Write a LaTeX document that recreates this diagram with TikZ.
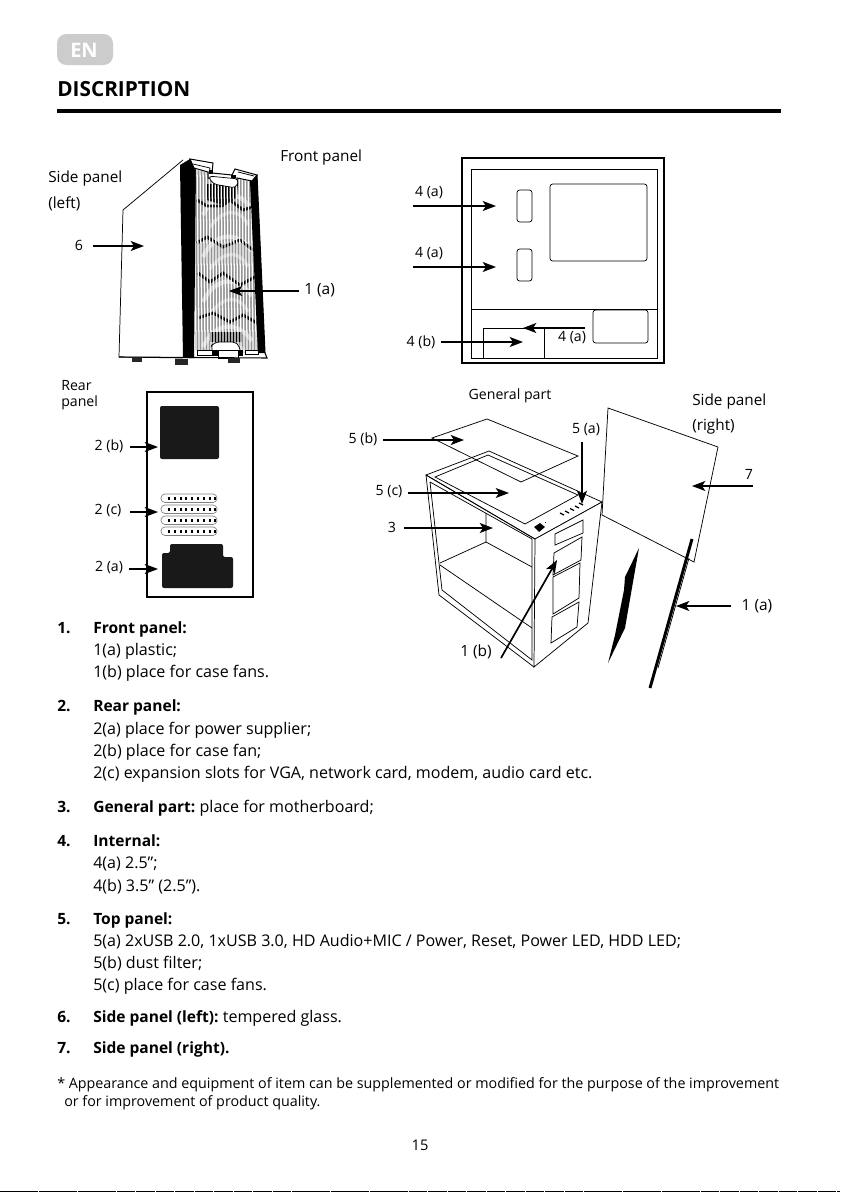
\documentclass[tikz,border=0pt]{standalone}
\usepackage{fontspec}
\setmainfont{Open Sans}
\usetikzlibrary{arrows.meta}
\newcommand{\bfx}[1]{{\fontsize{11.65}{14}\bfseries\selectfont #1}}
\tikzset{
 thinl/.style={draw=black,line width=0.55pt,line join=miter},
 arr/.style={-{Stealth[length=10pt,width=7.5pt,inset=2.5pt]},line width=1.25pt,black,shorten <=0pt},
 lab/.style={font=\fontsize{11.5}{13}\selectfont,inner sep=0pt,text=black},
 labs/.style={font=\fontsize{10.6}{12}\selectfont,inner sep=0pt,text=black},
 labb/.style={font=\fontsize{11.6}{13}\selectfont,inner sep=0pt,text=black},
 body/.style={font=\fontsize{12.05}{14}\selectfont,anchor=base west,inner sep=0pt,text=black},
 note/.style={font=\fontsize{10.72}{12}\selectfont,anchor=base west,inner sep=0pt,text=black},
}
\begin{document}
\begin{tikzpicture}[x=0.75pt,y=-0.75pt]
\useasboundingbox (0,0) rectangle (840,1192);
\fill[white] (0,0) rectangle (840,1192);
% header
\fill[black!20,rounded corners=7pt] (57,34) rectangle (113,65);
\node[font=\fontsize{15}{17}\bfseries\selectfont,text=white,inner sep=0pt] (en) at (84,50) {EN};
\node[font=\fontsize{15.6}{17}\bfseries\selectfont,anchor=base west,inner sep=0pt] (title) at (57,96) {DISCRIPTION};
\fill (57,109) rectangle (781,113);
\draw[line width=1.2pt,dash pattern=on 14pt off 0.6pt] (0,1191.4) -- (840,1191.4);
% ===== tower =====
\draw[thinl,fill=white] (183,160)--(123,210)--(119,357)--(183,358);
\fill (180,165)--(190,159)--(196,170)--(194,358)--(183,358)--cycle;
\begin{scope}
\clip (196,170)--(253,182)--(259,353)--(195,350)--cycle;
\fill[black!42] (190,165) rectangle (270,360);
\foreach \c in {203,245,290,335}{
 \draw[black!22,line width=3.2pt] (203,\c+12) .. controls (215,\c-14) and (238,\c-14) .. (252,\c+6);
 \draw[black!26,line width=2.6pt] (210,\c+24) .. controls (225,\c+4) and (240,\c+6) .. (248,\c+22);
}
\fill (207,184)--(238,184)--(236,198)--(222,205)--(207,200)--cycle;
\fill (210,332) rectangle (242,342);
\draw[line width=2.2pt] (197,200)--(207,206)--(222,206)--(230,200)--(243,210)--(253,207);
\draw[line width=2.2pt] (197,243)--(207,237)--(223,247)--(240,240)--(253,250);
\draw[line width=2.2pt] (198,273)--(210,282)--(223,273)--(240,285)--(255,277);
\draw[line width=2.2pt] (198,318)--(213,313)--(230,322)--(243,315)--(257,323);
\foreach \x in {194,197,...,264}{\draw[white,line width=0.95pt] (\x,165)--(\x+2.2,360);}
\end{scope}
\fill (250,181)--(257,175)--(265,353)--(258,353)--cycle;
% top bracket
\draw[thinl,line width=0.75pt,fill=white] (190,159)--(213,163)--(212,173)--(232,175)--(235,169)--(257,175)--(252,181)--(237,178)--(236,184)--(208,178)--(208,172)--(194,168)--cycle;
\draw[thinl] (193,164)--(210,168)--(209,173);
\draw[thinl] (238,172)--(254,176);
\draw[thinl,fill=white,rounded corners=3pt] (208,176)--(213,184)--(236,188)--(239,179)--cycle;
\fill (209,170) rectangle (213,174);
\fill (231,175) rectangle (236,178);
% bottom
\draw[thinl,fill=white] (212,350)--(212,345)[rounded corners=4pt]--(214,342)--(238,342)--(240,350);
\draw[thinl,fill=white] (197,350) rectangle (213,355);
\draw[thinl,fill=white] (245,350) rectangle (258,354);
\draw[thinl,fill=white] (218,350) rectangle (238,358);
\fill (212,350) rectangle (218,356);
\fill (238,350) rectangle (243,356);
\draw[thinl,line width=0.8pt] (265,353)--(267,358)--(119,357);
\draw[thinl,line width=0.8pt] (257,175)--(265,353);
\fill[black!85] (132,358) rectangle (142,362);
\fill[black!85] (175,359) rectangle (188,365);
\fill[black!85] (228,358) rectangle (240,363);
% tower labels
\node[lab,anchor=west] (sl1) at (48,179) {Side panel};
\node[lab,anchor=west] (sl2) at (48,204) {(left)};
\node[lab,anchor=west] (fp) at (280,158) {Front panel};
\node[labs] (l6) at (79,245) {6};
\node[labb,anchor=west] (l1a) at (304,290) {1 (a)};
\coordinate (t6s) at (93,246); \coordinate (t6e) at (144,246);
\coordinate (t1s) at (299,291); \coordinate (t1e) at (229,291);
\draw[arr] (t6s)--(t6e);
\draw[arr] (t1s)--(t1e);
% ===== internal =====
\draw[line width=1.1pt] (462,158) rectangle (664,363);
\draw[thinl] (471,169) rectangle (657,358);
\draw[thinl] (471,309)--(657,309);
\draw[thinl,rounded corners=2pt] (517,190) rectangle (532,222);
\draw[thinl,rounded corners=2pt] (517,249) rectangle (532,281);
\draw[thinl,rounded corners=2pt] (550,184) rectangle (647,261);
\draw[thinl,rounded corners=2pt] (593,310) rectangle (648,343);
\draw[thinl,line width=0.75pt] (483,358)--(483,328)--(544,328)--(544,358);
\node[labs] (i1) at (429,193) {4 (a)};
\node[labs] (i2) at (429,254) {4 (a)};
\node[labs] (i3) at (421,342) {4 (b)};
\node[labs] (i4) at (572,338) {4 (a)};
\coordinate (a1s) at (413,206); \coordinate (a1e) at (496,206);
\coordinate (a2s) at (413,267); \coordinate (a2e) at (496,267);
\coordinate (a3s) at (441,342); \coordinate (a3e) at (523,342);
\coordinate (a4s) at (585,328); \coordinate (a4e) at (523,328);
\draw[arr] (a1s)--(a1e); \draw[arr] (a2s)--(a2e); \draw[arr] (a3s)--(a3e); \draw[arr] (a4s)--(a4e);
% ===== rear =====
\node[labs,anchor=west] (r1) at (61,386) {Rear};
\node[labs,anchor=west] (r2) at (61,403) {panel};
\draw[line width=0.8pt] (147,392) rectangle (253,597);
\fill[black!90,rounded corners=1.5pt] (160,406) rectangle (219,459);
\foreach \y in {494,505,516,527}{
 \draw[black!50,line width=0.5pt,rounded corners=3pt,fill=white] (161,\y) rectangle (217,\y+8.5);
 \foreach \x in {169,174.8,...,216}{\fill (\x-1,\y+3) rectangle (\x+1,\y+5.5);}
}
\fill[black!90,rounded corners=1.5pt] (170,544)--(223,544)--(223,557)--(233,557)--(233,588)--(162,588)--(162,553)--(170,553)--cycle;
\node[labs] (rb) at (109,446) {2 (b)};
\node[labs] (rc) at (108,510) {2 (c)};
\node[labs] (ra) at (109,567) {2 (a)};
\coordinate (b1s) at (130,447); \coordinate (b1e) at (158,447);
\coordinate (b2s) at (130,512); \coordinate (b2e) at (158,512);
\coordinate (b3s) at (129,569); \coordinate (b3e) at (158,569);
\draw[arr] (b1s)--(b1e); \draw[arr] (b2s)--(b2e); \draw[arr] (b3s)--(b3e);
% ===== general =====
\draw[thinl] (432,438)--(487,419)--(578,456)--(521,482)--cycle;
\draw[thinl] (426,475)--(489,451)--(602,502)--(535,539)--cycle;
\draw[thinl] (435,477)--(488,455)--(578,495)--(525,524)--cycle;
\draw[thinl,fill=white] (608,408)--(718,447)--(694,562)--(602,515)--cycle;
\draw[thinl,fill=white] (535,539)--(602,502)--(588,623)--(534,667)--cycle;
\draw[thinl] (426,475)--(439,595)--(534,667);
\draw[thinl] (430,482)--(442,590)--(532,660)--(532,539)--(430,482);
\draw[thinl] (426,475)--(535,539);
\draw[thinl] (486,513)--(486,542)--(440,563);
\draw[thinl] (486,542)--(532,567);
\draw[thinl] (440,565)--(532,628);
\foreach \a/\b/\c/\d in {
 {(555,534)}/{(583,520)}/{(583,533)}/{(555,545)},
 {(554,553)}/{(582,537)}/{(581,560)}/{(553,575)},
 {(553,577)}/{(580,563)}/{(579,598)}/{(553,614)},
 {(552,617)}/{(579,602)}/{(577,627)}/{(551,643)}}{
 \draw[thinl] \a--\b--\c--\d--cycle;
}
\fill (534,527)--(540,523)--(545,527)--(539,532)--cycle;
\fill (545.5,522.5) circle (0.5);
\foreach \x/\y in {562/514,567/512,572/509.5,577/507,581/504}{\draw[line width=0.9pt] (\x-2,\y-1)--(\x+2,\y+1);}
\fill (639,548)--(625,577)--(624,590)--(615,635)--(608,663)--(625,628)--(633,582)--cycle;
\draw[line width=2.2pt] (692,539)--(650,688);
\draw[thinl] (689,558)--(658,668);
\node[labs] (gp) at (510,396) {General part};
\node[lab,anchor=west] (sr1) at (692,402) {Side panel};
\node[lab,anchor=west] (sr2) at (692,427) {(right)};
\node[labs] (g5b) at (363,439) {5 (b)};
\node[labs] (g5a) at (586,430) {5 (a)};
\node[labs] (g5c) at (389,492) {5 (c)};
\node[labs] (g3) at (392,527) {3};
\node[labs] (g7) at (749,474) {7};
\node[labb] (g1a) at (757,606) {1 (a)};
\node[labb] (g1b) at (476,652) {1 (b)};
\coordinate (c1s) at (383,440); \coordinate (c1e) at (464,440);
\coordinate (c2s) at (582,442); \coordinate (c2e) at (582,504);
\coordinate (c3s) at (408,493); \coordinate (c3e) at (509,493);
\coordinate (c4s) at (404,528); \coordinate (c4e) at (493,528);
\coordinate (c5s) at (753,486); \coordinate (c5e) at (692,486);
\coordinate (c6s) at (731,606); \coordinate (c6e) at (676,606);
\coordinate (c7s) at (501,658); \coordinate (c7e) at (557,560);
\draw[arr] (c1s)--(c1e); \draw[arr] (c2s)--(c2e);
\draw[arr,line width=0.8pt] (c3s)--(c3e);
\draw[arr] (c4s)--(c4e); \draw[arr] (c5s)--(c5e); \draw[arr] (c6s)--(c6e); \draw[arr] (c7s)--(c7e);
% ===== text list =====
\newcommand{\numlab}[3]{\node[body] (#1) at (57,#2) {\bfx{#3}};}
\numlab{n1}{633}{1.}
\node[body] (t1) at (93,633) {\bfx{Front panel:}};
\node[body] (t1a) at (93,655) {1(a) plastic;};
\node[body] (t1b) at (93,677) {1(b) place for case fans.};
\numlab{n2}{711}{2.}
\node[body] (t2) at (93,711) {\bfx{Rear panel:}};
\node[body] (t2a) at (93,734) {2(a) place for power supplier;};
\node[body] (t2b) at (93,756) {2(b) place for case fan;};
\node[body] (t2c) at (93,778) {2(c) expansion slots for VGA, network card, modem, audio card etc.};
\numlab{n3}{812}{3.}
\node[body] (t3) at (93,812) {\bfx{General part:}\kern-1pt{} place for motherboard;};
\numlab{n4}{846}{4.}
\node[body] (t4) at (93,846) {\bfx{Internal:}};
\node[body] (t4a) at (93,868) {4(a) 2.5”;};
\node[body] (t4b) at (93,891) {4(b) 3.5” (2.5”).};
\numlab{n5}{924}{5.}
\node[body] (t5) at (93,924) {\bfx{Top panel:}};
\node[body] (t5a) at (93,946) {5(a) 2xUSB 2.0, 1xUSB 3.0, HD Audio+MIC / Power, Reset, Power LED, HDD LED;};
\node[body] (t5b) at (93,968) {5(b) dust filter;};
\node[body] (t5c) at (93,990) {5(c) place for case fans.};
\numlab{n6}{1022}{6.}
\node[body] (t6) at (93,1022) {\bfx{Side panel (left):}\kern-1pt{} tempered glass.};
\numlab{n7}{1053}{7.}
\node[body] (t7) at (93,1053) {\bfx{Side panel (right).}};
\node[note] (f1) at (57,1088) {* Appearance and equipment of item can be supplemented or modified for the purpose of the improvement};
\node[note] (f2) at (64,1106) {or for improvement of product quality.};
\node[lab,font=\fontsize{11}{12}\selectfont] (pg) at (420,1145) {15};
\end{tikzpicture}
\end{document}
